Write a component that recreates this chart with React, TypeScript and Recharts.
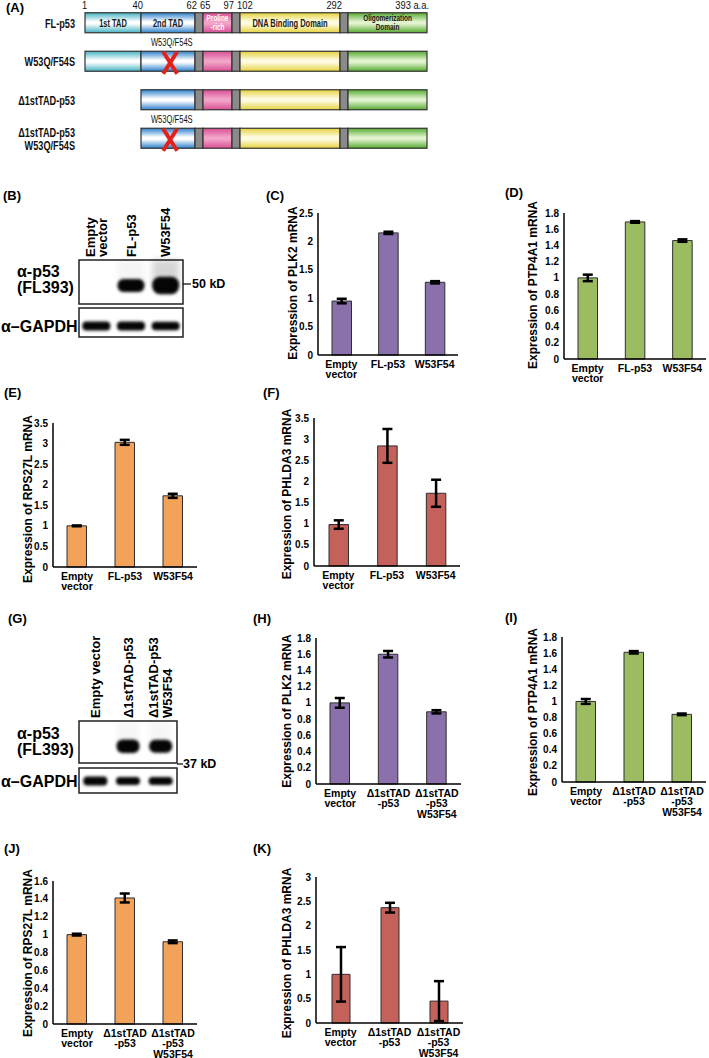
import React from "react";
import { BarChart, Bar, XAxis, YAxis, ErrorBar, ScatterChart, Scatter, ReferenceArea } from "recharts";

const FONT = "'Liberation Sans', Arial, Helvetica, sans-serif";

// ---------------- (A) domain map data ----------------
const constructs = ["FL-p53", "W53Q/F54S", "Δ1stTAD-p53", "Δ1stTAD-p53\nW53Q/F54S"];
const hasFirstTAD = [true, true, false, false];
const hasMutation = [false, true, false, true];
const domainKeys = ["tad1", "tad2", "link1", "pro", "link2", "dbd", "link3", "olig"];
const domainSpans = [56, 54, 8, 29, 8, 100, 8, 79]; // schematic (not to scale) widths
const domainNames = ["1st TAD", "2nd TAD", "", "Proline\n-rich", "", "DNA Binding Domain", "", "Oligomerization\nDomain"];
const residueStart = ["1", "", "", "65", "", "102", "", ""];
const residueEnd = ["40", "62", "", "97", "", "292", "", "393 a.a."];
const mutationLabel = "W53Q/F54S";

// ---------------- qPCR data ----------------
const groupsFL = ["Empty\nvector", "FL-p53", "W53F54"];
const groupsDelta = ["Empty\nvector", "Δ1stTAD\n-p53", "Δ1stTAD\n-p53\nW53F54"];

const plk2FL = [0.95, 2.15, 1.28];
const plk2FLErr = [0.04, 0.02, 0.02];
const ptp4a1FL = [1.0, 1.69, 1.46];
const ptp4a1FLErr = [0.04, 0.01, 0.015];
const rps27lFL = [1.0, 3.03, 1.73];
const rps27lFLErr = [0.01, 0.06, 0.05];
const phlda3FL = [0.98, 2.84, 1.72];
const phlda3FLErr = [0.1, 0.4, 0.32];

const plk2Delta = [1.0, 1.6, 0.89];
const plk2DeltaErr = [0.06, 0.04, 0.02];
const ptp4a1Delta = [1.0, 1.61, 0.84];
const ptp4a1DeltaErr = [0.03, 0.015, 0.01];
const rps27lDelta = [1.0, 1.41, 0.92];
const rps27lDeltaErr = [0.01, 0.05, 0.015];
const phlda3Delta = [1.0, 2.37, 0.45];
const phlda3DeltaErr = [0.56, 0.1, 0.41];

const ticksTo25 = [0, 0.5, 1, 1.5, 2, 2.5];
const ticksTo18 = [0, 0.2, 0.4, 0.6, 0.8, 1, 1.2, 1.4, 1.6, 1.8];
const ticksTo35 = [0, 0.5, 1, 1.5, 2, 2.5, 3, 3.5];
const ticksTo16 = [0, 0.2, 0.4, 0.6, 0.8, 1, 1.2, 1.4, 1.6];
const ticksTo3 = [0, 0.5, 1, 1.5, 2, 2.5, 3];

// ---------------- western blot data ----------------
const blotLanesB = ["Empty\nvector", "FL-p53", "W53F54"];
const p53SignalB = [0, 1, 1.35];
const p53SmearB = [0, 0.04, 0.16];
const gapdhSignalB = [1, 1, 0.95];
const blotLanesG = ["Empty vector", "Δ1stTAD-p53", "Δ1stTAD-p53\nW53F54"];
const p53SignalG = [0, 1.05, 1.0];
const p53SmearG = [0, 0.03, 0.03];
const gapdhSignalG = [1.05, 0.95, 0.95];

// ---------------- helpers ----------------
function SqText({ x, y, size, sx = 1, anchor = "middle", weight = 700, fill = "#111", children }: any) {
  return (
    <text
      transform={`translate(${x},${y}) scale(${sx},1)`}
      x={0}
      y={0}
      fontSize={size}
      fontWeight={weight}
      textAnchor={anchor}
      dominantBaseline="central"
      fill={fill}
      fontFamily={FONT}
    >
      {children}
    </text>
  );
}

const gradStops: Record<string, [string, string]> = {
  tad1: ["#45b3c2", "#ffffff"],
  tad2: ["#2c80cc", "#ffffff"],
  pro: ["#d84f95", "#f2a3c8"],
  dbd: ["#e4d23e", "#fffbe2"],
  olig: ["#55aa30", "#e2f3cf"],
};

function makeDomainShape(j: number) {
  return (props: any) => {
    const { x, y, width, height, index } = props;
    const key = domainKeys[j];
    if (j === 0 && !hasFirstTAD[index]) return <g />;
    const isLinker = key.startsWith("link");
    const fill = isLinker ? "#8a8a8a" : `url(#grad-${key})`;
    const cx = x + width / 2;
    const cy = y + height / 2;
    const parts: any[] = [];
    parts.push(<rect key="r" x={x} y={y} width={width} height={height} fill={fill} stroke="#333" strokeWidth={1.2} />);
    if (index === 0) {
      const lines = domainNames[j] ? domainNames[j].split("\n") : [];
      lines.forEach((l, i) =>
        parts.push(
          <SqText key={"n" + i} x={cx} y={cy + (i - (lines.length - 1) / 2) * 9.5} size={lines.length > 1 ? 9.5 : 11} sx={0.68} fill={key === "pro" ? "#ffffff" : "#1a1a1a"}>
            {l}
          </SqText>
        )
      );
      if (residueStart[j])
        parts.push(
          <SqText key="s" x={x - 3} y={y - 8} size={11} sx={0.85} weight={400} anchor="start">
            {residueStart[j]}
          </SqText>
        );
      if (residueEnd[j])
        parts.push(
          <SqText key="e" x={x + width + 2} y={y - 8} size={11} sx={0.85} weight={400} anchor="end">
            {residueEnd[j]}
          </SqText>
        );
    }
    if (key === "tad2" && hasMutation[index]) {
      const mx = x + width * 0.54;
      const my = cy + 1.5;
      parts.push(<line key="x1" x1={mx - 7} y1={my - 11} x2={mx + 7} y2={my + 11} stroke="#e3211c" strokeWidth={4} />);
      parts.push(<line key="x2" x1={mx + 7} y1={my - 11} x2={mx - 7} y2={my + 11} stroke="#e3211c" strokeWidth={4} />);
      parts.push(
        <SqText key="ml" x={x + width * 0.57} y={y - 9} size={10} sx={0.76} weight={400}>
          {mutationLabel}
        </SqText>
      );
    }
    return <g>{parts}</g>;
  };
}

const RowTick = (props: any) => {
  const { x, y, payload } = props;
  const lines = String(payload.value).split("\n");
  return (
    <g>
      {lines.map((l, i) => (
        <SqText key={i} x={x} y={y + (i - (lines.length - 1) / 2) * 13} size={13.5} sx={0.68} anchor="end">
          {l}
        </SqText>
      ))}
    </g>
  );
};

function DomainMap() {
  const data = constructs.map((c) => {
    const row: any = { name: c };
    domainKeys.forEach((k, j) => (row[k] = domainSpans[j]));
    return row;
  });
  const total = domainSpans.reduce((a, b) => a + b, 0);
  return (
    <div style={{ position: "absolute", left: 0, top: 0 }}>
      <BarChart layout="vertical" data={data} width={440} height={165} margin={{ top: 3.75, right: 13, bottom: 7.25, left: 0 }} barSize={20}>
        <defs>
          {Object.keys(gradStops).map((k) => (
            <linearGradient key={k} id={`grad-${k}`} x1="0" y1="0" x2="0" y2="1">
              <stop offset="0%" stopColor={gradStops[k][0]} />
              <stop offset="45%" stopColor={gradStops[k][1]} />
              <stop offset="55%" stopColor={gradStops[k][1]} />
              <stop offset="100%" stopColor={gradStops[k][0]} />
            </linearGradient>
          ))}
        </defs>
        <XAxis type="number" domain={[0, total]} hide />
        <YAxis type="category" dataKey="name" width={85} axisLine={false} tickLine={false} tickSize={0} tickMargin={10} tick={<RowTick />} interval={0} />
        {domainKeys.map((k, j) => (
          <Bar key={k} dataKey={k} stackId="d" isAnimationActive={false} shape={makeDomainShape(j)} />
        ))}
      </BarChart>
    </div>
  );
}

// ---------------- qPCR panel ----------------
const fmt = (v: number) => String(Math.round(v * 10) / 10);

const CatTick = (props: any) => {
  const { x, y, payload } = props;
  const lines = String(payload.value).split("\n");
  return (
    <g>
      {lines.map((l, i) => (
        <text key={i} x={x} y={y + 8.5 + i * 10.5} textAnchor="middle" dominantBaseline="central" fontSize={10.5} fontWeight={700} fontFamily={FONT} fill="#000">
          {l}
        </text>
      ))}
    </g>
  );
};

function ExprPanel({ axisX, maxY, zeroY, plotW, names, values, errs, yMax, ticks, color, barSize = 19.5 }: any) {
  const data = names.map((n: string, i: number) => ({ name: n, value: values[i], err: errs[i] }));
  const plotH = zeroY - maxY;
  const W = 70 + plotW + 6;
  const H = 10 + plotH + 50;
  return (
    <div style={{ position: "absolute", left: axisX - 70, top: maxY - 10 }}>
      <BarChart width={W} height={H} data={data} margin={{ top: 10, right: 6, bottom: 0, left: 0 }}>
        <XAxis dataKey="name" type="category" height={50} axisLine={{ stroke: "#000", strokeWidth: 1.5 }} tickLine={false} tickSize={0} tickMargin={0} tick={<CatTick />} interval={0} />
        <YAxis
          type="number"
          domain={[0, yMax]}
          ticks={ticks}
          width={70}
          axisLine={{ stroke: "#000", strokeWidth: 1.5 }}
          tickLine={false}
          tickSize={3}
          tickMargin={2}
          tick={{ fontSize: 10, fontWeight: 700, fill: "#000", fontFamily: FONT }}
          tickFormatter={fmt}
          interval={0}
        />
        <Bar dataKey="value" fill={color} stroke="#2e2e2e" strokeWidth={1} barSize={barSize} isAnimationActive={false}>
          <ErrorBar dataKey="err" width={5} strokeWidth={2.5} stroke="#000" direction="y" />
        </Bar>
      </BarChart>
    </div>
  );
}

// ---------------- western blot ----------------
function makeBandShape(bandW: number, bandH: number) {
  return (props: any) => {
    const { cx, cy, payload } = props;
    const v = payload.signal;
    const parts: any[] = [];
    if (payload.smear > 0) {
      parts.push(
        <rect key="sm" x={cx - bandW / 2} y={cy - 26} width={bandW} height={24} fill="#000" opacity={payload.smear} style={{ filter: "blur(3px)" }} />
      );
    }
    if (v > 0) {
      const h = bandH * v;
      parts.push(
        <rect key="b" x={cx - bandW / 2} y={cy - h / 2} width={bandW} height={h} rx={h / 2.2} fill="#050505" style={{ filter: "blur(1.4px)" }} />
      );
    }
    return <g>{parts}</g>;
  };
}

function Blot({ left, top, boxW, boxH, labels, signal, smear, bandY, bandW, bandH, labelH = 0, lineH = 12 }: any) {
  const data = signal.map((s: number, i: number) => ({ lane: i, y: bandY, signal: s, smear: smear ? smear[i] : 0 }));
  const showLabels = !!labels;
  const LaneTick = (p: any) => {
    const { x, y, payload } = p;
    const lines = String(labels[payload.value]).split("\n");
    return (
      <g transform={`translate(${x},${y}) rotate(-90)`}>
        {lines.map((l, i) => (
          <text key={i} x={0} y={(i - (lines.length - 1) / 2) * lineH} dy="0.36em" textAnchor="start" fontSize={13} fontWeight={700} fontFamily={FONT} fill="#000">
            {l}
          </text>
        ))}
      </g>
    );
  };
  return (
    <div style={{ position: "absolute", left: left - 2, top: top - (showLabels ? labelH : 2) }}>
      <ScatterChart width={boxW + 4} height={boxH + (showLabels ? labelH + 2 : 4)} margin={{ top: showLabels ? 0 : 2, right: 2, bottom: 2, left: 2 }}>
        <XAxis
          type="number"
          dataKey="lane"
          domain={[-0.5, 2.5]}
          ticks={[0, 1, 2]}
          orientation="top"
          height={showLabels ? labelH : 0}
          hide={!showLabels}
          axisLine={false}
          tickLine={false}
          tickSize={0}
          tickMargin={3}
          tick={<LaneTick />}
          interval={0}
        />
        <YAxis type="number" dataKey="y" domain={[0, 1]} hide />
        <ReferenceArea x1={-0.5} x2={2.5} y1={0} y2={1} fill="none" stroke="#222" strokeWidth={1.5} />
        <Scatter data={data} shape={makeBandShape(bandW, bandH)} isAnimationActive={false} />
      </ScatterChart>
    </div>
  );
}

// ---------------- overlay text ----------------
function VTitle({ x, y, children }: any) {
  return (
    <text transform={`translate(${x},${y}) rotate(-90)`} textAnchor="middle" dominantBaseline="central" fontSize={12} fontWeight={700} fontFamily={FONT} fill="#000">
      {children}
    </text>
  );
}

function PLetter({ x, y, children }: any) {
  return (
    <text x={x} y={y} dominantBaseline="central" fontSize={13} fontWeight={700} fontFamily={FONT} fill="#000">
      {children}
    </text>
  );
}

function BlotText({ x, y, children, size = 16 }: any) {
  return (
    <text x={x} y={y} dominantBaseline="central" fontSize={size} fontWeight={700} fontFamily={FONT} fill="#000">
      {children}
    </text>
  );
}

export default function App() {
  return (
    <div style={{ position: "absolute", left: 0, top: 0, width: 709, height: 1058, background: "#fff", overflow: "hidden" }}>
      <DomainMap />

      <Blot left={79} top={260} boxW={104} boxH={44} labels={blotLanesB} signal={p53SignalB} smear={p53SmearB} bandY={0.42} bandW={27} bandH={13} labelH={80} lineH={12} />
      <Blot left={79} top={308} boxW={104} boxH={29} signal={gapdhSignalB} bandY={0.38} bandW={28} bandH={9} />
      <Blot left={79} top={721} boxW={98} boxH={42} labels={blotLanesG} signal={p53SignalG} smear={p53SmearG} bandY={0.4} bandW={23} bandH={13} labelH={95} lineH={14} />
      <Blot left={79} top={768} boxW={98} boxH={25} signal={gapdhSignalG} bandY={0.48} bandW={24} bandH={8.5} />

      <ExprPanel axisX={318} maxY={213} zeroY={355} plotW={140} names={groupsFL} values={plk2FL} errs={plk2FLErr} yMax={2.5} ticks={ticksTo25} color="#8a71ab" />
      <ExprPanel axisX={564} maxY={213} zeroY={359} plotW={142} names={groupsFL} values={ptp4a1FL} errs={ptp4a1FLErr} yMax={1.8} ticks={ticksTo18} color="#9bbc61" />
      <ExprPanel axisX={53} maxY={423} zeroY={567} plotW={144} names={groupsFL} values={rps27lFL} errs={rps27lFLErr} yMax={3.5} ticks={ticksTo35} color="#f2a359" />
      <ExprPanel axisX={314} maxY={418} zeroY={566} plotW={146} names={groupsFL} values={phlda3FL} errs={phlda3FLErr} yMax={3.5} ticks={ticksTo35} color="#c4615b" />
      <ExprPanel axisX={316} maxY={638} zeroY={784} plotW={145} names={groupsDelta} values={plk2Delta} errs={plk2DeltaErr} yMax={1.8} ticks={ticksTo18} color="#8a71ab" />
      <ExprPanel axisX={562} maxY={637} zeroY={782} plotW={144} names={groupsDelta} values={ptp4a1Delta} errs={ptp4a1DeltaErr} yMax={1.8} ticks={ticksTo18} color="#9bbc61" />
      <ExprPanel axisX={53} maxY={881} zeroY={1024} plotW={144} names={groupsDelta} values={rps27lDelta} errs={rps27lDeltaErr} yMax={1.6} ticks={ticksTo16} color="#f2a359" />
      <ExprPanel axisX={316} maxY={877} zeroY={1023} plotW={147} names={groupsDelta} values={phlda3Delta} errs={phlda3DeltaErr} yMax={3} ticks={ticksTo3} color="#c4615b" barSize={18} />

      <svg width={709} height={1058} style={{ position: "absolute", left: 0, top: 0, pointerEvents: "none" }}>
        <PLetter x={6} y={7}>(A)</PLetter>
        <PLetter x={3} y={195}>(B)</PLetter>
        <PLetter x={266} y={195}>(C)</PLetter>
        <PLetter x={505} y={192}>(D)</PLetter>
        <PLetter x={4} y={392}>(E)</PLetter>
        <PLetter x={263} y={392}>(F)</PLetter>
        <PLetter x={8} y={618}>(G)</PLetter>
        <PLetter x={253} y={618}>(H)</PLetter>
        <PLetter x={505} y={617}>(I)</PLetter>
        <PLetter x={4} y={848}>(J)</PLetter>
        <PLetter x={253} y={848}>(K)</PLetter>

        <VTitle x={293} y={283}>Expression of PLK2 mRNA</VTitle>
        <VTitle x={533} y={285}>Expression of PTP4A1 mRNA</VTitle>
        <VTitle x={28} y={499}>Expression of RPS27L mRNA</VTitle>
        <VTitle x={287} y={494}>Expression of PHLDA3 mRNA</VTitle>
        <VTitle x={287} y={711}>Expression of PLK2 mRNA</VTitle>
        <VTitle x={533} y={712}>Expression of PTP4A1 mRNA</VTitle>
        <VTitle x={28} y={953}>Expression of RPS27L mRNA</VTitle>
        <VTitle x={287} y={953}>Expression of PHLDA3 mRNA</VTitle>

        <BlotText x={17} y={271}>α-p53</BlotText>
        <BlotText x={17} y={287}>(FL393)</BlotText>
        <BlotText x={1} y={326}>α–GAPDH</BlotText>
        <line x1={183} y1={284} x2={191} y2={284} stroke="#000" strokeWidth={1.2} />
        <BlotText x={192} y={284} size={12.5}>50 kD</BlotText>

        <BlotText x={17} y={733}>α-p53</BlotText>
        <BlotText x={17} y={749}>(FL393)</BlotText>
        <BlotText x={1} y={781}>α–GAPDH</BlotText>
        <line x1={177} y1={764} x2={183} y2={764} stroke="#000" strokeWidth={1.2} />
        <BlotText x={183} y={764} size={12.5}>37 kD</BlotText>
      </svg>
    </div>
  );
}
